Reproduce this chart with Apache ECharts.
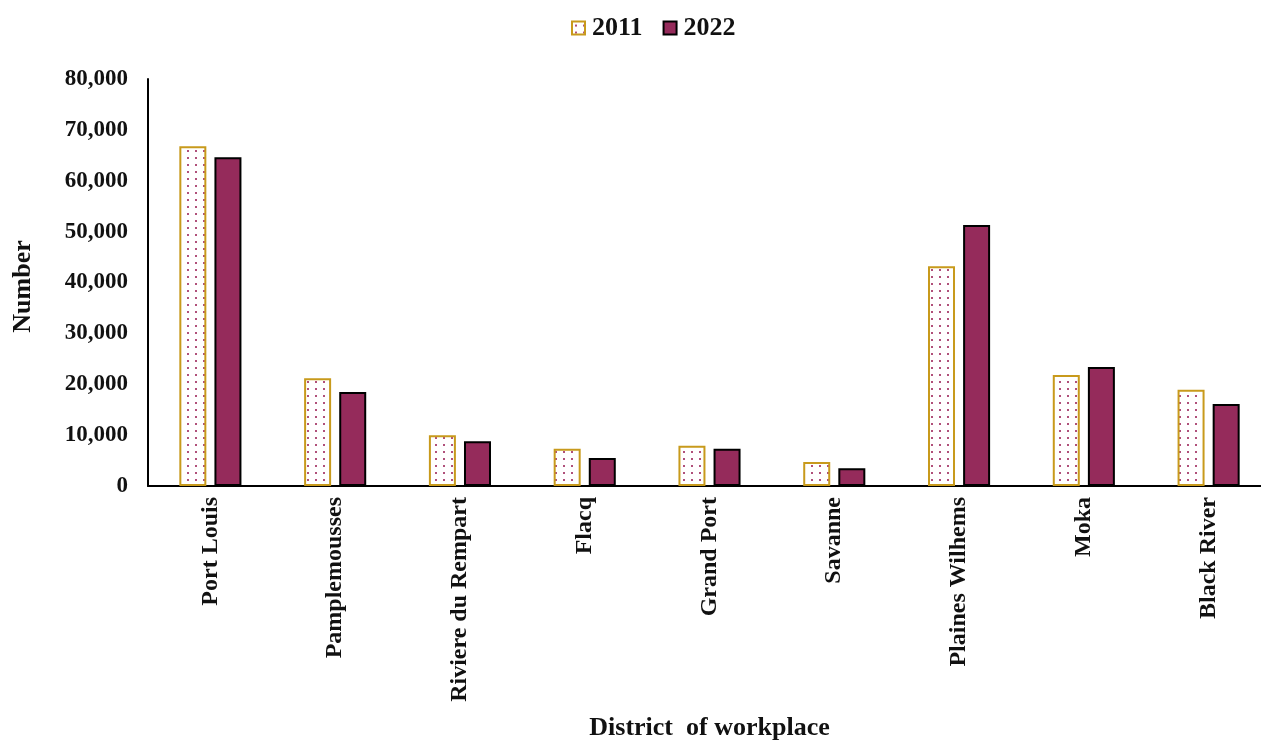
<!DOCTYPE html>
<html>
<head>
<meta charset="utf-8">
<script src="https://cdn.jsdelivr.net/npm/echarts@6/dist/echarts.min.js"></script>
<style>html,body{margin:0;padding:0;background:#fff;}#c{width:1261px;height:742px;}</style>
</head>
<body>
<div id="c"></div>
<script>
const categories = ['Port Louis','Pamplemousses','Riviere du Rempart','Flacq','Grand Port','Savanne','Plaines Wilhems','Moka','Black River'];
const values2011 = [66800, 21200, 10000, 7300, 7900, 4700, 43200, 21800, 18900];
const values2022 = [64600, 18500, 8800, 5500, 7300, 3500, 51300, 23400, 16100];
const yTicks = [0, 80000, 10000];

const FONT = 'Liberation Serif';
const pat = document.createElement('canvas');
pat.width = 8; pat.height = 7;
const g = pat.getContext('2d');
g.fillStyle = '#fff'; g.fillRect(0,0,8,7);
g.fillStyle = '#b0507a';
g.fillRect(3,3,2,2);

const chart = echarts.init(document.getElementById('c'));
chart.setOption({
  animation: false,
  backgroundColor: '#fff',
  textStyle: {fontFamily: FONT},
  legend: {
    top: 10, left: 566, icon: 'rect', itemWidth: 13, itemHeight: 13, itemGap: 20,
    textStyle: {fontFamily: FONT, fontWeight: 'bold', fontSize: 26, color: '#111', padding: [0,0,0,2]},
    data: ['2011','2022']
  },
  grid: {left: 148, right: -10, top: 79, bottom: 256, containLabel: false, outerBoundsMode: 'none'},
  xAxis: {
    type: 'category', data: categories,
    name: 'District  of workplace', nameLocation: 'middle', nameGap: 229,
    nameTextStyle: {fontFamily: FONT, fontWeight: 'bold', fontSize: 26, color: '#111'},
    axisLine: {lineStyle: {color: '#000', width: 2}},
    axisTick: {show: false},
    axisLabel: {rotate: 90, margin: 11, fontFamily: FONT, fontWeight: 'bold', fontSize: 24, color: '#111', interval: 0}
  },
  yAxis: {
    type: 'value', min: yTicks[0], max: yTicks[1], interval: yTicks[2],
    name: 'Number', nameLocation: 'middle', nameGap: 112, nameRotate: 90,
    nameTextStyle: {fontFamily: FONT, fontWeight: 'bold', fontSize: 26, color: '#111', padding: [0, 8, 0, 0]},
    axisLine: {show: true, lineStyle: {color: '#000', width: 2}},
    axisTick: {show: false},
    splitLine: {show: false},
    axisLabel: {margin: 20, fontFamily: FONT, fontWeight: 'bold', fontSize: 23, color: '#111',
      formatter: v => v.toLocaleString('en-US')}
  },
  series: [
    {name: '2011', type: 'bar', data: values2011, barWidth: 27, barGap: '30%',
     itemStyle: {color: {image: pat, repeat: 'repeat'}, borderColor: '#c89a1c', borderWidth: 2}},
    {name: '2022', type: 'bar', data: values2022, barWidth: 27,
     itemStyle: {color: '#952b5b', borderColor: '#000', borderWidth: 2}}
  ]
});
</script>
</body>
</html>
